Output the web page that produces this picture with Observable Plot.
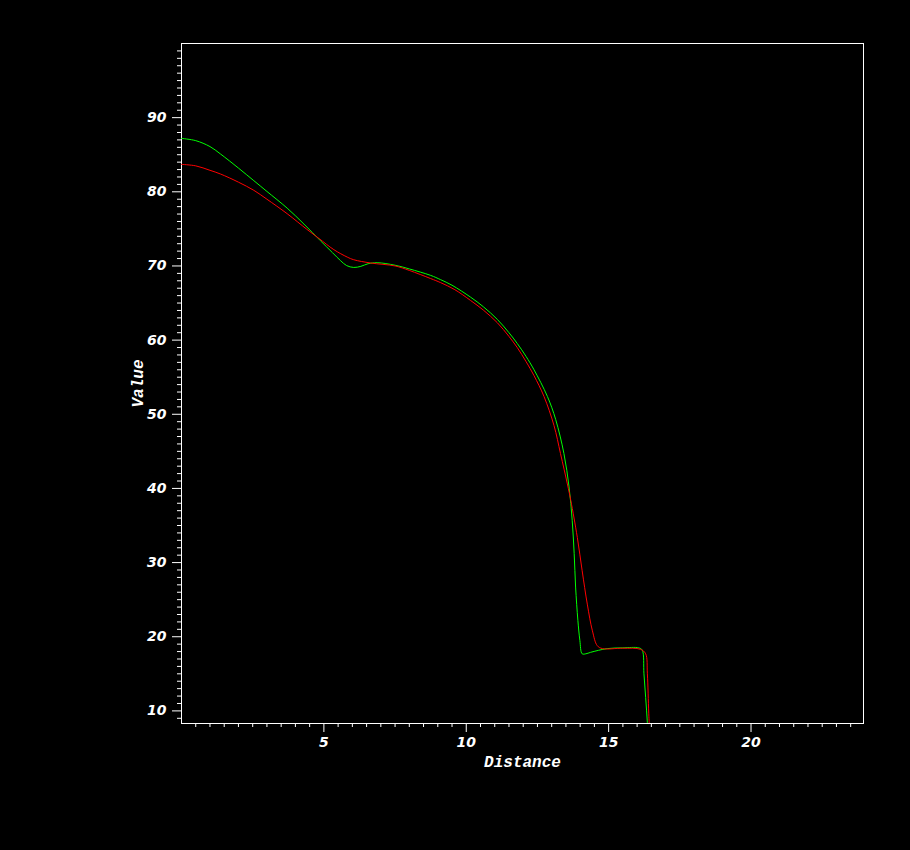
<!DOCTYPE html>
<html>
<head>
<meta charset="utf-8">
<script src="https://cdn.jsdelivr.net/npm/d3@7"></script>
<script src="https://cdn.jsdelivr.net/npm/@observablehq/plot@0.6"></script>
<style>
  html, body { margin: 0; padding: 0; background: #000; }
  #chart { width: 910px; height: 850px; }
</style>
</head>
<body>
<div id="chart"></div>
<script>
// Green series (Distance, Value)
const greenX = [0, 0.5, 1.0, 1.37, 2.0, 2.54, 3.0, 3.71, 4.3, 4.88, 5.3, 5.59, 5.8, 6.05, 6.3, 6.55, 6.87, 7.5, 8.0, 8.75, 9.1, 9.5, 10.15, 10.6, 11.09, 11.5, 11.79, 12.1, 12.38, 12.85, 13.14, 13.43, 13.61, 13.72, 13.79, 13.84, 13.92, 13.99, 14.07, 14.2, 14.37, 14.95, 15.5, 16.06, 16.18, 16.24, 16.3, 16.36, 16.4];
const greenY = [87.2, 86.9, 86.1, 85.1, 83.2, 81.5, 80.05, 77.8, 75.65, 73.4, 71.8, 70.7, 70.05, 69.8, 69.95, 70.3, 70.44, 70.1, 69.6, 68.73, 68.15, 67.4, 65.8, 64.5, 62.8, 61.0, 59.55, 57.8, 56.0, 52.4, 49.3, 44.7, 40.2, 35.7, 31.2, 26.7, 22.2, 19.5, 17.7, 17.7, 17.9, 18.4, 18.5, 18.5, 18.2, 15.0, 11.8, 8.4, 5];

// Red series (Distance, Value)
const redX = [0, 0.5, 1.0, 1.37, 2.0, 2.54, 3.0, 3.71, 4.4, 4.83, 5.35, 5.82, 6.05, 6.64, 7.5, 8.0, 8.75, 9.1, 9.6, 10.15, 10.6, 11.09, 11.5, 11.79, 12.1, 12.38, 12.73, 13.08, 13.31, 13.55, 13.67, 13.9, 14.07, 14.25, 14.43, 14.6, 14.78, 15.5, 16.12, 16.3, 16.36, 16.41, 16.47];
const redY = [83.7, 83.5, 82.9, 82.4, 81.3, 80.2, 79.0, 77.05, 74.95, 73.7, 72.2, 71.2, 70.84, 70.4, 70.0, 69.4, 68.3, 67.75, 66.8, 65.35, 64.05, 62.35, 60.5, 59.0, 57.1, 55.2, 52.4, 48.5, 44.7, 40.6, 38.4, 33.4, 28.9, 24.4, 20.8, 18.8, 18.4, 18.45, 18.3, 17.7, 15.0, 9.6, 5];

// Tick values
const xMajorTicks = [5, 10, 15, 20];
const xMinorTicks = d3.range(0.5, 24, 0.5).filter(t => t % 5 !== 0);
const yMajorTicks = [10, 20, 30, 40, 50, 60, 70, 80, 90];
const yMinorTicks = d3.range(9, 100, 1).filter(t => t % 10 !== 0);

const green = greenX.map((x, i) => ({x, y: greenY[i]}));
const red = redX.map((x, i) => ({x, y: redY[i]}));

const tickFont = {fontFamily: "'DejaVu Sans', sans-serif", fontWeight: "bold", fontStyle: "italic", fontSize: 14};
const labelFont = {fontFamily: "'Liberation Mono', 'DejaVu Sans Mono', monospace", fontWeight: "bold", fontStyle: "italic", fontSize: 16, fill: "#fff"};

const chart = Plot.plot({
  width: 910,
  height: 850,
  marginLeft: 181,
  marginRight: 47,
  marginTop: 43,
  marginBottom: 127,
  style: {background: "#000", color: "#fff"},
  x: {domain: [0, 23.95]},
  y: {domain: [8.3, 100]},
  marks: [
    Plot.axisX({ticks: xMinorTicks, tickSize: 4, text: null, label: null, stroke: "#fff"}),
    Plot.axisY({ticks: yMinorTicks, tickSize: 4, text: null, label: null, stroke: "#fff"}),
    Plot.axisX({ticks: xMajorTicks, tickSize: 9, tickPadding: 5, tickFormat: d3.format("d"), stroke: "#fff",
      label: null, ...tickFont}),
    Plot.axisY({ticks: yMajorTicks, tickSize: 9, tickPadding: 6, tickFormat: d3.format("d"), stroke: "#fff",
      label: null, ...tickFont}),
    Plot.text(["Distance"], {frameAnchor: "bottom", lineAnchor: "bottom", dy: 43, ...labelFont}),
    Plot.text(["Value"], {frameAnchor: "left", textAnchor: "middle", lineAnchor: "top", rotate: -90, dx: -50, ...labelFont}),
    Plot.frame({stroke: "#fff", strokeWidth: 1}),
    Plot.line(green, {x: "x", y: "y", stroke: "#00ff00", strokeWidth: 1, curve: "catmull-rom", clip: true}),
    Plot.line(red, {x: "x", y: "y", stroke: "#ff0000", strokeWidth: 1, curve: "catmull-rom", clip: true})
  ]
});
document.getElementById("chart").appendChild(chart);
</script>
</body>
</html>
